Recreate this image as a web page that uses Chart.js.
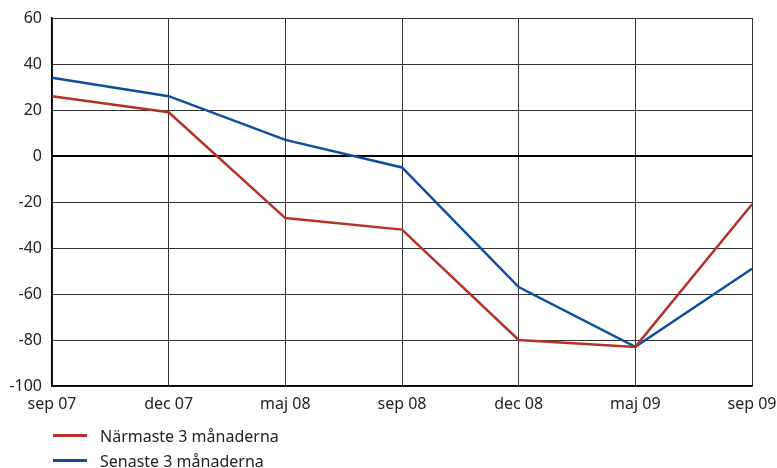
<!DOCTYPE html>
<html>
<head>
<meta charset="utf-8">
<script src="https://cdn.jsdelivr.net/npm/chart.js@4"></script>
<style>
  html, body { margin: 0; padding: 0; background: #fff; }
  .wrap { position: relative; width: 777px; height: 468px; }
  .legend { position: absolute; left: 53px; top: 423px; font: 16px "Noto Sans", sans-serif; color: #222; }
  .legend-item { display: flex; align-items: center; height: 25px; }
  .legend-item .swatch { width: 34px; height: 3px; margin-right: 13px; }
</style>
</head>
<body>
<div class="wrap">
  <canvas id="chart" width="777" height="468"></canvas>
  <div class="legend" id="legend"></div>
</div>
<script>
/* ── Data ── */
const categories = ['sep 07', 'dec 07', 'maj 08', 'sep 08', 'dec 08', 'maj 09', 'sep 09'];
const narmaste   = [26, 19, -27, -32, -80, -83, -21];
const senaste    = [34, 26, 7, -5, -57, -83, -49];
const yTicks     = [60, 40, 20, 0, -20, -40, -60, -80, -100];

const seriesNames  = ['Närmaste 3 månaderna', 'Senaste 3 månaderna'];
const seriesColors = ['#b3322a', '#0b4f9e'];

const font = { family: "'Noto Sans', sans-serif", size: 16 };

/* ── Chart ── */
new Chart(document.getElementById('chart'), {
  type: 'line',
  data: {
    labels: categories,
    datasets: [
      { label: seriesNames[0], data: narmaste, borderColor: seriesColors[0], borderWidth: 2.5, pointRadius: 0, tension: 0 },
      { label: seriesNames[1], data: senaste,  borderColor: seriesColors[1], borderWidth: 2.5, pointRadius: 0, tension: 0 }
    ]
  },
  options: {
    responsive: false,
    animation: false,
    layout: { padding: { top: 18, right: 25, left: 0, bottom: 0 } },
    plugins: { legend: { display: false }, tooltip: { enabled: false } },
    scales: {
      x: {
        offset: false,
        grid: { color: '#333', lineWidth: 1, drawTicks: false },
        border: { color: '#000', width: 1.5 },
        ticks: { color: '#222', font: font, padding: 9, maxRotation: 0 },
        afterFit: s => { s.height = 82; s.paddingLeft = 0; s.paddingRight = 0; }
      },
      y: {
        min: -100,
        max: 60,
        afterBuildTicks: s => { s.ticks = yTicks.map(v => ({ value: v })); },
        grid: {
          drawTicks: false,
          color: c => c.tick && c.tick.value === 0 ? '#000' : '#333',
          lineWidth: c => c.tick && c.tick.value === 0 ? 2 : 1
        },
        border: { color: '#000', width: 1.5 },
        ticks: { color: '#222', font: font, padding: 10 },
        afterFit: s => { s.width = 52; s.paddingTop = 0; s.paddingBottom = 0; }
      }
    }
  }
});

/* ── Legend ── */
const legendEl = document.getElementById('legend');
seriesNames.forEach((name, i) => {
  const item = document.createElement('div');
  item.className = 'legend-item';
  item.innerHTML = `<span class="swatch" style="background:${seriesColors[i]}"></span><span>${name}</span>`;
  legendEl.appendChild(item);
});
</script>
</body>
</html>
